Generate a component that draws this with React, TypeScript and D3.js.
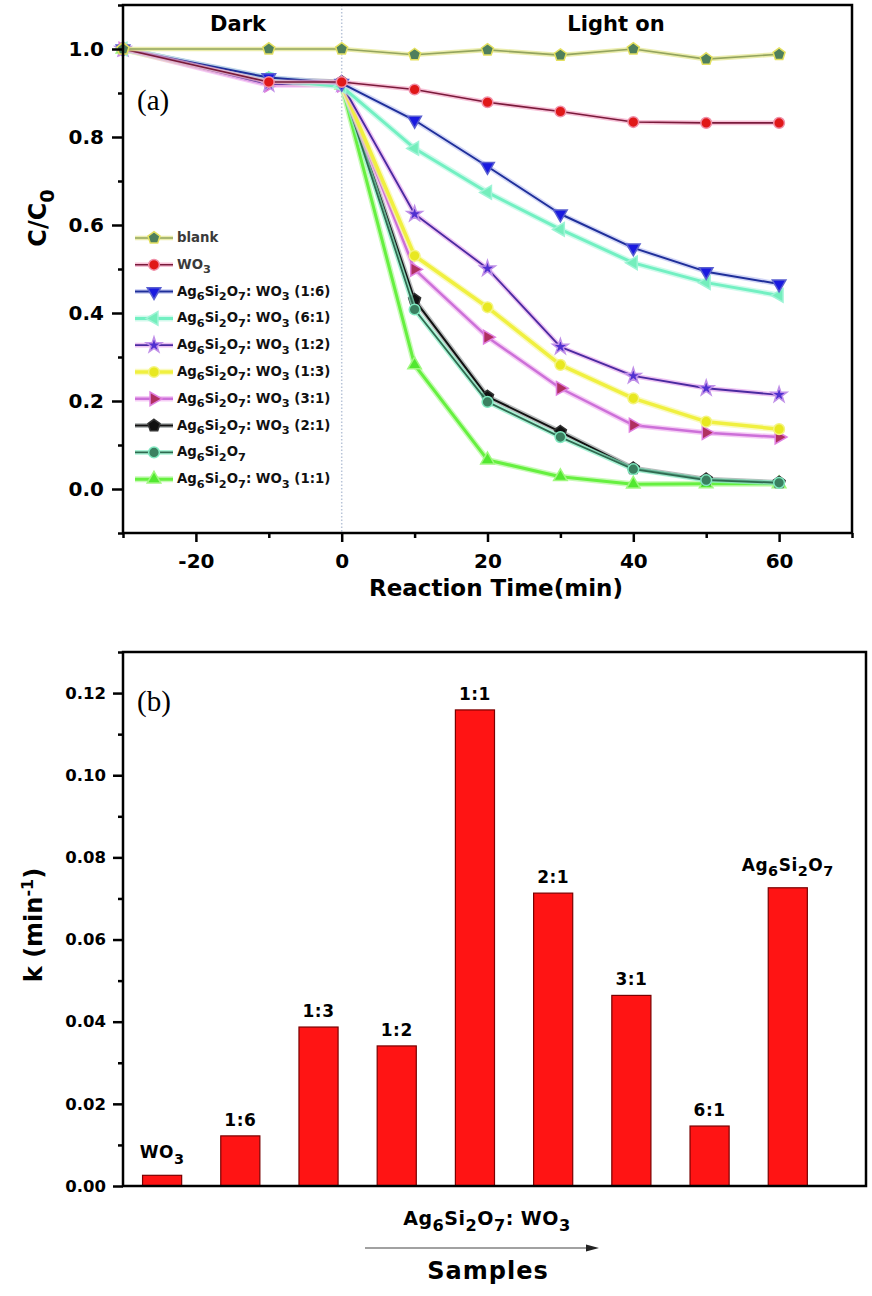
import React, { useEffect, useRef } from 'react';
import * as d3 from 'd3';

// ---- panel (a): C/C0 vs reaction time ----
const times = [-30, -10, 0, 10, 20, 30, 40, 50, 60];
const blank = [1.0, 1.0, 1.0, 0.987, 0.998, 0.986, 1.0, 0.977, 0.988];
const wo3 = [1.0, 0.925, 0.925, 0.908, 0.879, 0.858, 0.834, 0.832, 0.832];
const r16 = [1.0, 0.935, 0.922, 0.838, 0.733, 0.625, 0.548, 0.494, 0.466];
const r61 = [1.0, 0.93, 0.915, 0.774, 0.674, 0.59, 0.514, 0.469, 0.44];
const r12 = [1.0, 0.92, 0.92, 0.625, 0.501, 0.323, 0.257, 0.229, 0.214];
const r13 = [1.0, 0.925, 0.92, 0.53, 0.413, 0.282, 0.206, 0.153, 0.136];
const r31 = [1.0, 0.918, 0.918, 0.499, 0.345, 0.229, 0.145, 0.128, 0.118];
const r21 = [1.0, 0.932, 0.925, 0.43, 0.21, 0.13, 0.047, 0.022, 0.015];
const ag = [1.0, 0.935, 0.92, 0.408, 0.198, 0.118, 0.045, 0.02, 0.014];
const r11 = [1.0, 0.93, 0.918, 0.282, 0.066, 0.028, 0.011, 0.012, 0.012];

const seriesNames = ['blank', 'WO3', 'Ag6Si2O7: WO3 (1:6)', 'Ag6Si2O7: WO3 (6:1)', 'Ag6Si2O7: WO3 (1:2)',
  'Ag6Si2O7: WO3 (1:3)', 'Ag6Si2O7: WO3 (3:1)', 'Ag6Si2O7: WO3 (2:1)', 'Ag6Si2O7', 'Ag6Si2O7: WO3 (1:1)'];
const seriesValues = [blank, wo3, r16, r61, r12, r13, r31, r21, ag, r11];
// back to front
const drawOrder = [9, 7, 8, 6, 5, 4, 3, 2, 1, 0];

const xTicksA = [-20, 0, 20, 40, 60];
const xMinorA = [-30, -10, 10, 30, 50, 70];
const yTicksA = [0, 0.2, 0.4, 0.6, 0.8, 1.0];
const yMinorA = [-0.1, 0.1, 0.3, 0.5, 0.7, 0.9, 1.1];

// ---- panel (b): rate constants ----
const sampleLabels = ['WO3', '1:6', '1:3', '1:2', '1:1', '2:1', '3:1', '6:1', 'Ag6Si2O7'];
const kValues = [0.0026, 0.0122, 0.0387, 0.0341, 0.1159, 0.0713, 0.0464, 0.0146, 0.0726];
const yTicksB = [0, 0.02, 0.04, 0.06, 0.08, 0.1, 0.12];
const yMinorB = [0.01, 0.03, 0.05, 0.07, 0.09, 0.11, 0.13];

// line / marker styles, same order as seriesNames
const styles = [
  { line: '#93a45e', halo: '#e2e68a', fill: '#4f7f5c', edge: '#e4e060', w: 1.6, shape: 'pentagon' },
  { line: '#7a1a3a', halo: '#f4a8c8', fill: '#e01818', edge: '#f090a8', w: 1.6, shape: 'circle' },
  { line: '#1f2f9a', halo: '#c0c6f2', fill: '#1a1ae0', edge: '#5a60d0', w: 2, shape: 'down' },
  { line: '#72f0c2', halo: '#bdf8e4', fill: '#74eebc', edge: '#9ff4d6', w: 3, shape: 'left' },
  { line: '#4a2aa0', halo: '#e6a8ee', fill: '#5030d0', edge: '#c090e8', w: 1.8, shape: 'star' },
  { line: '#f0f040', halo: '#f8f8a8', fill: '#e8e820', edge: '#f4f480', w: 3.5, shape: 'circle' },
  { line: '#cc70d8', halo: '#f2b8f2', fill: '#b03060', edge: '#e080e0', w: 2.5, shape: 'right' },
  { line: '#111111', halo: '#9aa0a0', fill: '#111111', edge: '#333333', w: 2, shape: 'pentagon' },
  { line: '#2f6a50', halo: '#88f0c6', fill: '#3a8060', edge: '#80e8c0', w: 1.8, shape: 'circle' },
  { line: '#66f040', halo: '#b2f89a', fill: '#52e830', edge: '#a0f880', w: 3, shape: 'up' },
];

const FONT = '"DejaVu Sans", Verdana, sans-serif';
const SERIF = '"Liberation Serif", "Times New Roman", serif';

const xA = d3.scaleLinear().domain([-30, 70]).range([123, 852]);
const yA = d3.scaleLinear().domain([-0.1, 1.1]).range([533, 5]);
const xB = d3.scaleLinear().domain([0.5, 10]).range([123, 866]);
const yB = d3.scaleLinear().domain([0, 0.13]).range([1186, 652]);

const pentagon = {
  draw(ctx: any, size: number) {
    const r = Math.sqrt(size / 2.38);
    for (let k = 0; k < 5; k++) {
      const a = -Math.PI / 2 + (k * 2 * Math.PI) / 5;
      if (k === 0) ctx.moveTo(r * Math.cos(a), r * Math.sin(a));
      else ctx.lineTo(r * Math.cos(a), r * Math.sin(a));
    }
    ctx.closePath();
  },
};

function markerPath(shape: string) {
  if (shape === 'circle') return d3.symbol().type(d3.symbolCircle).size(90)() as string;
  if (shape === 'star') return d3.symbol().type(d3.symbolStar).size(75)() as string;
  if (shape === 'pentagon') return d3.symbol().type(pentagon as any).size(95)() as string;
  return d3.symbol().type(d3.symbolTriangle).size(80)() as string;
}
const rot: Record<string, number> = { up: 0, down: 180, left: -90, right: 90 };

// digits directly after a letter become subscripts
function chem(text: string, fs: number, subScale = 0.8) {
  const parts: { t: string; sub: boolean }[] = [];
  for (let i = 0; i < text.length; i++) {
    const c = text[i];
    const prev = i > 0 ? text[i - 1] : '';
    const sub = /\d/.test(c) && /[A-Za-z]/.test(prev);
    const last = parts[parts.length - 1];
    if (last && last.sub === sub) last.t += c;
    else parts.push({ t: c, sub });
  }
  let down = false;
  return parts.map((p, i) => {
    let dy: number | undefined;
    if (p.sub && !down) { dy = fs * 0.33; down = true; }
    else if (!p.sub && down) { dy = -fs * 0.33; down = false; }
    return (
      <tspan key={i} dy={dy} fontSize={p.sub ? fs * subScale : undefined}>{p.t}</tspan>
    );
  });
}

function styleAxis(sel: any, fs: number) {
  sel.select('.domain').remove();
  sel.selectAll('line').attr('stroke', '#000').attr('stroke-width', 2.5);
  sel.selectAll('text')
    .attr('font-family', FONT)
    .attr('font-weight', 'bold')
    .attr('font-size', fs)
    .attr('fill', '#000');
}

export default function App() {
  const axXA = useRef<SVGGElement>(null);
  const axXAm = useRef<SVGGElement>(null);
  const axYA = useRef<SVGGElement>(null);
  const axYAm = useRef<SVGGElement>(null);
  const axYB = useRef<SVGGElement>(null);
  const axYBm = useRef<SVGGElement>(null);

  useEffect(() => {
    d3.select(axXA.current).call(
      d3.axisBottom(xA).tickValues(xTicksA).tickSize(9).tickPadding(12).tickFormat((d: any) => String(d)) as any
    ).call((s: any) => styleAxis(s, 20));
    d3.select(axXAm.current).call(
      d3.axisBottom(xA).tickValues(xMinorA).tickSize(5).tickFormat(() => '') as any
    ).call((s: any) => styleAxis(s, 20));
    d3.select(axYA.current).call(
      d3.axisLeft(yA).tickValues(yTicksA).tickSize(11).tickPadding(8).tickFormat(d3.format('.1f') as any) as any
    ).call((s: any) => styleAxis(s, 20));
    d3.select(axYAm.current).call(
      d3.axisLeft(yA).tickValues(yMinorA).tickSize(5).tickFormat(() => '') as any
    ).call((s: any) => styleAxis(s, 20));
    d3.select(axYB.current).call(
      d3.axisLeft(yB).tickValues(yTicksB).tickSize(10).tickPadding(7).tickFormat(d3.format('.2f') as any) as any
    ).call((s: any) => styleAxis(s, 16.5));
    d3.select(axYBm.current).call(
      d3.axisLeft(yB).tickValues(yMinorB).tickSize(5).tickFormat(() => '') as any
    ).call((s: any) => styleAxis(s, 16.5));
  }, []);

  const line = d3.line<number>().x((_, i) => xA(times[i])).y((d) => yA(d));
  const barW = xB(1.25) - xB(0.75);

  return (
    <svg width={872} height={1296} style={{ position: 'absolute', left: 0, top: 0, background: '#fff' }}>
      <rect x={0} y={0} width={872} height={1296} fill="#fff" />

      {/* ===== panel (a) ===== */}
      <line x1={xA(0)} x2={xA(0)} y1={yA(1.1)} y2={yA(-0.1)} stroke="#b8c4d8" strokeWidth={1.5} strokeDasharray="1.5 2" />
      <text x={238} y={31} fontFamily={FONT} fontWeight="bold" fontSize={21} textAnchor="middle">Dark</text>
      <text x={616} y={31} fontFamily={FONT} fontWeight="bold" fontSize={21} textAnchor="middle">Light on</text>
      <text x={137} y={110} fontFamily={SERIF} fontSize={29}>(a)</text>

      {drawOrder.map((si) => {
        const st = styles[si];
        const d = line(seriesValues[si]) as string;
        return (
          <g key={'s' + si}>
            <path d={d} fill="none" stroke={st.halo} strokeWidth={st.w + 3} strokeOpacity={0.7} strokeLinejoin="round" />
            <path d={d} fill="none" stroke={st.line} strokeWidth={st.w} strokeLinejoin="round" />
            {seriesValues[si].map((v, i) => (
              <path key={i} d={markerPath(st.shape)} fill={st.fill} stroke={st.edge} strokeWidth={1.5}
                transform={`translate(${xA(times[i])},${yA(v)}) rotate(${rot[st.shape] || 0})`} />
            ))}
          </g>
        );
      })}

      {/* legend */}
      {seriesNames.map((name, i) => {
        const st = styles[i];
        const y = 238 + i * 26.8;
        return (
          <g key={'l' + i}>
            <line x1={135} x2={173} y1={y} y2={y} stroke={st.halo} strokeWidth={st.w + 3} strokeOpacity={0.7} />
            <line x1={135} x2={173} y1={y} y2={y} stroke={st.line} strokeWidth={st.w} />
            <path d={markerPath(st.shape)} fill={st.fill} stroke={st.edge} strokeWidth={1.5}
              transform={`translate(154,${y}) rotate(${rot[st.shape] || 0})`} />
            <text x={177} y={y + 4} fontFamily={FONT} fontWeight="bold" fontSize={13.3}
              fill={i < 2 ? '#3a3a3a' : '#111'}>{chem(name, 13.3, 0.85)}</text>
          </g>
        );
      })}

      <g ref={axXA} transform={`translate(0,${yA(-0.1)})`} />
      <g ref={axXAm} transform={`translate(0,${yA(-0.1)})`} />
      <g ref={axYA} transform={`translate(${xA(-30)},0)`} />
      <g ref={axYAm} transform={`translate(${xA(-30)},0)`} />
      <rect x={xA(-30)} y={yA(1.1)} width={xA(70) - xA(-30)} height={yA(-0.1) - yA(1.1)}
        fill="none" stroke="#000" strokeWidth={2.5} />

      <text x={496} y={596} fontFamily={FONT} fontWeight="bold" fontSize={23} textAnchor="middle">Reaction Time(min)</text>
      <text transform="translate(46,218) rotate(-90)" fontFamily={FONT} fontWeight="bold" fontSize={24} textAnchor="middle">
        {chem('C/C0', 24)}
      </text>

      {/* ===== panel (b) ===== */}
      <text x={137} y={711} fontFamily={SERIF} fontSize={29}>(b)</text>
      {kValues.map((k, i) => (
        <g key={'b' + i}>
          <rect x={xB(i + 1) - barW / 2} y={yB(k)} width={barW} height={yB(0) - yB(k)}
            fill="#ff1414" stroke="#7a0000" strokeWidth={1.2} />
          <text x={xB(i + 1)} y={yB(k) - (/[A-Za-z]/.test(sampleLabels[i]) ? 17 : 10)}
            fontFamily={FONT} fontWeight="bold" fontSize={17} textAnchor="middle" letterSpacing={0.5}>
            {chem(sampleLabels[i], 17, 0.85)}
          </text>
        </g>
      ))}

      <g ref={axYB} transform={`translate(${xB(0.5)},0)`} />
      <g ref={axYBm} transform={`translate(${xB(0.5)},0)`} />
      <rect x={xB(0.5)} y={yB(0.13)} width={xB(10) - xB(0.5)} height={yB(0) - yB(0.13)}
        fill="none" stroke="#000" strokeWidth={2.5} />

      <text transform="translate(42,925) rotate(-90)" fontFamily={FONT} fontWeight="bold" fontSize={24} textAnchor="middle">
        k (min<tspan dy={-9} fontSize={16}>-1</tspan><tspan dy={9}>)</tspan>
      </text>

      <text x={487} y={1225} fontFamily={FONT} fontWeight="bold" fontSize={19} textAnchor="middle" letterSpacing={0.5}>
        {chem('Ag6Si2O7: WO3', 19, 0.85)}
      </text>
      <line x1={365} x2={588} y1={1248} y2={1248} stroke="#444" strokeWidth={1.2} />
      <path d="M599,1248 L586,1244.5 L586,1251.5 Z" fill="#222" />
      <text x={488} y={1279} fontFamily={FONT} fontWeight="bold" fontSize={24} textAnchor="middle" letterSpacing={1}>Samples</text>
    </svg>
  );
}
